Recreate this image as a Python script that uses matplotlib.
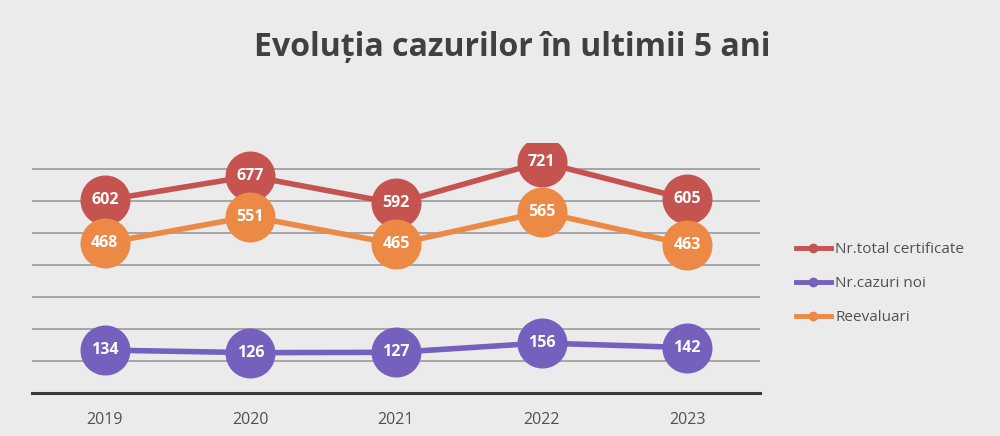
import matplotlib.pyplot as plt
from matplotlib.lines import Line2D

years = ['2019', '2020', '2021', '2022', '2023']
total = [602, 677, 592, 721, 605]
noi = [134, 126, 127, 156, 142]
reeval = [468, 551, 465, 565, 463]

series = [
    ('Nr.total certificate', total, '#c55350'),
    ('Nr.cazuri noi', noi, '#7560bd'),
    ('Reevaluari', reeval, '#ec8a45'),
]

plt.rcParams['font.family'] = ['Open Sans', 'DejaVu Sans']

fig = plt.figure(figsize=(10, 4.36), dpi=100, facecolor='#ebebeb')
ax = fig.add_axes([0.032, 0.0986, 0.728, 0.573])
ax.set_facecolor('none')

x = range(len(years))
for name, vals, col in series:
    ax.plot(x, vals, color=col, lw=4, marker='o', ms=35, mec=col, mfc=col,
            label=name, zorder=3, solid_capstyle='round')
    for xi, v in zip(x, vals):
        ax.text(xi, v, str(v), ha='center', va='center', color='white',
                fontsize=11.5, fontweight='bold', zorder=4)

ax.set_xlim(-0.5, 4.5)
ax.set_ylim(0, 780)
ax.set_yticks(range(100, 800, 100))
ax.yaxis.grid(True, color='#9a9a9a', lw=1.2)
ax.tick_params(axis='y', left=False, labelleft=False)
ax.tick_params(axis='x', length=0, pad=14, labelsize=11.5, labelcolor='#505050')
ax.set_xticks(list(x))
ax.set_xticklabels(years)
for s in ['top', 'right', 'left']:
    ax.spines[s].set_visible(False)
ax.spines['bottom'].set_color('#3a3a3a')
ax.spines['bottom'].set_linewidth(2.2)

fig.text(0.512, 0.89, 'Evoluția cazurilor în ultimii 5 ani', ha='center', va='center',
         fontsize=23, fontweight='bold', color='#404040')

labels = [s[0] for s in series]
hs = [Line2D([0], [0], color=c, lw=3.5, marker='o', ms=6, mfc=c, mec=c) for _, _, c in series]
fig.legend(hs, labels, loc='center left', bbox_to_anchor=(0.782, 0.349), frameon=False,
           fontsize=11, labelcolor='#505050', handlelength=2.3, handletextpad=0.3,
           labelspacing=1.25)

fig.savefig('out.png', dpi=100, facecolor=fig.get_facecolor())
